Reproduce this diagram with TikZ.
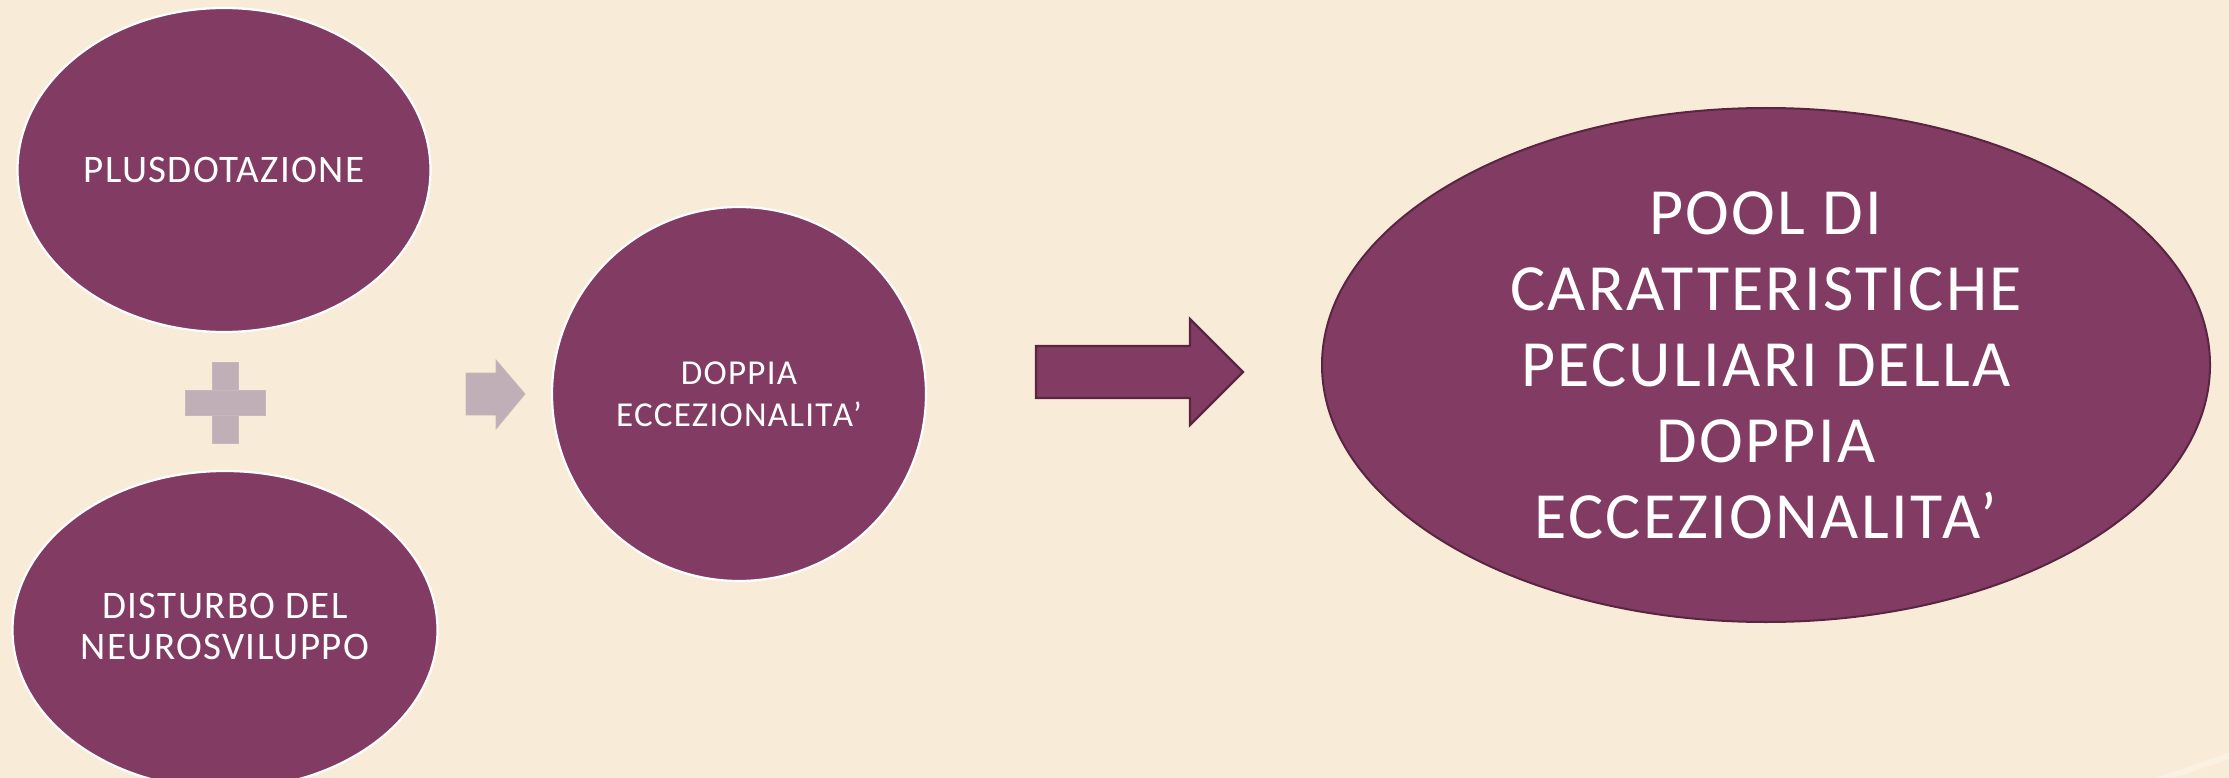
\documentclass[tikz,border=0pt]{standalone}
\usepackage{fontspec}
\setmainfont{Carlito}[LetterSpace=3.5]
\usetikzlibrary{shapes.geometric}
\definecolor{bgc}{HTML}{F8ECD8}
\definecolor{plum}{HTML}{823B63}
\definecolor{plumdark}{HTML}{5A2543}
\definecolor{lightplum}{HTML}{C0AFB7}
\definecolor{stripe}{HTML}{FAF1E3}
\tikzset{
  bubble/.style={ellipse, fill=plum, draw=white, line width=2.2pt, inner sep=0pt,
    text=white, align=center},
  bigbubble/.style={ellipse, fill=plum, draw=plumdark, line width=2pt, inner sep=0pt,
    text=white, align=center},
  lightshape/.style={fill=lightplum, draw=lightplum!90!white, line width=0.8pt},
  darkshape/.style={fill=plum, draw=plumdark, line width=2.2pt, line join=miter}
}
\begin{document}
\begin{tikzpicture}[x=1pt,y=-1pt]
\fill[bgc] (0,0) rectangle (2229,778);
\useasboundingbox (0,0) rectangle (2229,778);
\draw[stripe, line width=6pt] (2240,752) -- (2130,790);

% left ellipses
\node[bubble, minimum width=413pt, minimum height=324pt,
  font=\fontsize{39}{41}\selectfont] (plus) at (224,170) {PLUSDOTAZIONE};
\node[bubble, minimum width=425pt, minimum height=318pt] (dist) at (225,630) {};
\node[text=white, align=center, font=\fontsize{39}{41}\selectfont] (distt) at (225,626) {DISTURBO DEL\\NEUROSVILUPPO};

% plus sign
\coordinate (pc) at (225,402.5);
\fill[lightshape] (212,362) rectangle (238,443);
\fill[lightshape] (185,390) rectangle (265,415);

% small light arrow
\coordinate (la) at (466,394);
\filldraw[lightshape] (466,373) -- (496,373) -- (496,360) -- (525,394) -- (496,429) -- (496,415) -- (466,415) -- cycle;

% centre circle
\node[bubble, circle, minimum size=374pt,
  font=\fontsize{35}{42}\selectfont] (dop) at (739,394) {DOPPIA\\ECCEZIONALIT\kern0.5ptA’};

% dark arrow
\filldraw[darkshape] (1036,346) -- (1190,346) -- (1190,319) -- (1243,372) -- (1190,425) -- (1190,398) -- (1036,398) -- cycle;

% big ellipse
\node[bigbubble, minimum width=888pt, minimum height=514pt,
  font=\fontsize{66}{76}\selectfont] (pool) at (1766,365)
  {POOL DI\\CARATTERISTICHE\\PECULIARI DELLA\\DOPPIA\\ECCEZIONALIT\kern0.5ptA’};
\end{tikzpicture}
\end{document}
